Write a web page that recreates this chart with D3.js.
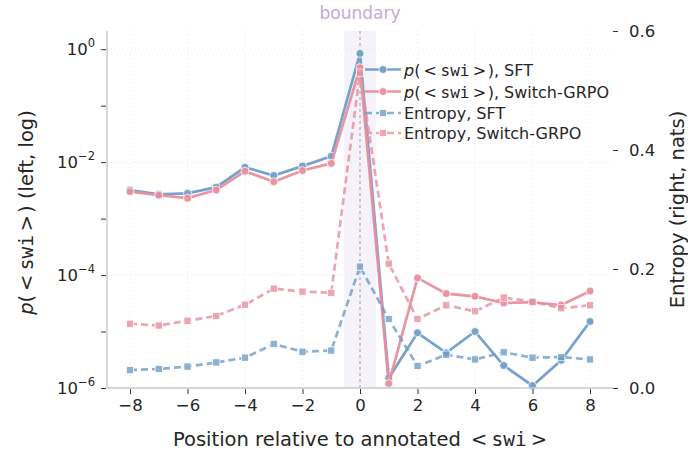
<!DOCTYPE html>
<html>
<head>
<meta charset="utf-8">
<script src="https://cdn.jsdelivr.net/npm/d3@7"></script>
<style>
  body { margin: 0; background: #fff; }
  text { font-family: "DejaVu Sans", sans-serif; fill: #262626; }
</style>
</head>
<body>
<svg id="chart"></svg>
<script>
var positions = [-8, -7, -6, -5, -4, -3, -2, -1, 0, 1, 2, 3, 4, 5, 6, 7, 8]

var pSft = [3.2e-3, 2.7e-3, 2.8e-3, 3.6e-3, 8.1e-3, 5.8e-3, 8.5e-3, 1.27e-2, 0.84,
            1.5e-6, 9.5e-6, 4.2e-6, 1.0e-5, 2.5e-6, 1.1e-6, 3.1e-6, 1.5e-5]
var pGrpo = [3.0e-3, 2.6e-3, 2.3e-3, 3.2e-3, 6.9e-3, 4.5e-3, 7.1e-3, 9.5e-3, 0.47,
             1.2e-6, 8.9e-5, 4.7e-5, 4.2e-5, 3.2e-5, 3.3e-5, 2.95e-5, 5.2e-5]
var entSft = [0.030, 0.032, 0.036, 0.043, 0.051, 0.074, 0.061, 0.063, 0.204,
              0.116, 0.037, 0.056, 0.048, 0.060, 0.051, 0.052, 0.048]
var entGrpo = [0.108, 0.105, 0.113, 0.121, 0.140, 0.167, 0.162, 0.160, 0.530,
               0.209, 0.116, 0.139, 0.129, 0.152, 0.145, 0.134, 0.139]

var xTicks = [-8, -6, -4, -2, 0, 2, 4, 6, 8]
var leftTicks = [1e-6, 1e-5, 1e-4, 1e-3, 1e-2, 1e-1, 1]
var leftLabels = [1e-6, 1e-4, 1e-2, 1]
var rightTicks = [0, 0.2, 0.4, 0.6]

var dimensions = {
  width: 688,
  height: 452,
  margin: { top: 31, bottom: 64, left: 107, right: 75 }
}

var blue = "#6f9ec9"
var pink = "#e8909e"

var svg = d3.select("#chart")
  .attr("width", dimensions.width)
  .attr("height", dimensions.height)

var x0 = dimensions.margin.left
var x1 = dimensions.width - dimensions.margin.right
var y0 = dimensions.height - dimensions.margin.bottom
var y1 = dimensions.margin.top

var xScale = d3.scaleLinear().domain([-8.8, 8.8]).range([x0, x1])
var yLeft = d3.scaleLog().domain([1e-6, 2.1]).range([y0, y1])
var yRight = d3.scaleLinear().domain([0, 0.6]).range([y0, y1])

// boundary band
svg.append("rect")
  .attr("x", xScale(-0.55))
  .attr("width", xScale(0.55) - xScale(-0.55))
  .attr("y", y1)
  .attr("height", y0 - y1)
  .attr("fill", "#f5f2fa")

// grid
svg.append("g").selectAll("line")
  .data(xTicks)
  .enter().append("line")
  .attr("x1", d => xScale(d)).attr("x2", d => xScale(d))
  .attr("y1", y1).attr("y2", y0)
  .attr("stroke", "#e2e2e2")
  .attr("stroke-width", 0.8)
  .attr("stroke-dasharray", "1,3")

svg.append("g").selectAll("line")
  .data([1e-4, 1e-2, 1])
  .enter().append("line")
  .attr("x1", x0).attr("x2", x1)
  .attr("y1", d => yLeft(d)).attr("y2", d => yLeft(d))
  .attr("stroke", "#e2e2e2")
  .attr("stroke-width", 0.8)
  .attr("stroke-dasharray", "1,3")

// boundary line
svg.append("line")
  .attr("x1", xScale(0)).attr("x2", xScale(0))
  .attr("y1", y1).attr("y2", y0)
  .attr("stroke", "#b3abbd")
  .attr("stroke-width", 1.2)
  .attr("stroke-dasharray", "3,3")

svg.append("text")
  .attr("x", xScale(0))
  .attr("y", 19)
  .attr("text-anchor", "middle")
  .style("font-size", "17px")
  .style("fill", "#c6a8de")
  .text("boundary")

// series
function drawSeries(values, scale, color, dashed, marker) {
  var pts = positions.map((p, i) => [xScale(p), scale(values[i])])
  var g = svg.append("g").attr("opacity", dashed ? 0.8 : 0.95)
  g.append("path")
    .attr("d", d3.line()(pts))
    .attr("fill", "none")
    .attr("stroke", color)
    .attr("stroke-width", 2.7)
    .attr("stroke-dasharray", dashed ? "7,4" : null)
  if (marker == "circle") {
    g.selectAll("circle").data(pts).enter().append("circle")
      .attr("cx", d => d[0]).attr("cy", d => d[1]).attr("r", 4)
      .attr("fill", color).attr("stroke", "#fff").attr("stroke-width", 0.8)
  } else {
    g.selectAll("rect").data(pts).enter().append("rect")
      .attr("x", d => d[0] - 3.6).attr("y", d => d[1] - 3.6)
      .attr("width", 7.2).attr("height", 7.2)
      .attr("fill", color).attr("stroke", "#fff").attr("stroke-width", 0.8)
  }
}

drawSeries(pSft, yLeft, blue, false, "circle")
drawSeries(pGrpo, yLeft, pink, false, "circle")
drawSeries(entSft, yRight, blue, true, "square")
drawSeries(entGrpo, yRight, pink, true, "square")

// spines
svg.append("line")
  .attr("x1", x0).attr("x2", x0).attr("y1", y1).attr("y2", y0)
  .attr("stroke", "#c9c9d2").attr("stroke-width", 1.5)
svg.append("line")
  .attr("x1", x0).attr("x2", x1).attr("y1", y0).attr("y2", y0)
  .attr("stroke", "#c9c9d2").attr("stroke-width", 1.5)

// x axis
var xAxis = svg.append("g")
  .attr("transform", `translate(0,${y0 + 1})`)
  .call(d3.axisBottom(xScale).tickValues(xTicks).tickSize(5).tickPadding(5)
    .tickFormat(d => d < 0 ? "\u2212" + Math.abs(d) : d))
xAxis.select(".domain").remove()
xAxis.selectAll(".tick line").attr("stroke", "#333")
xAxis.selectAll("text").style("font-size", "16.5px").style("fill", "#262626")

// left axis
var leftAxis = svg.append("g")
  .attr("transform", `translate(${x0 - 1},0)`)
  .call(d3.axisLeft(yLeft).tickValues(leftTicks).tickSize(5).tickFormat(""))
leftAxis.select(".domain").remove()
leftAxis.selectAll(".tick line").attr("stroke", "#333")

var expLabels = svg.append("g").selectAll("text")
  .data(leftLabels)
  .enter().append("text")
  .attr("x", x0 - 12)
  .attr("y", d => yLeft(d) + 6)
  .attr("text-anchor", "end")
  .style("font-size", "16.5px")
expLabels.append("tspan").text("10")
expLabels.append("tspan")
  .attr("dy", -8)
  .style("font-size", "11.5px")
  .text(d => {
    var e = Math.round(Math.log10(d))
    return e < 0 ? "\u2212" + Math.abs(e) : e
  })

// right axis
var rightAxis = svg.append("g")
  .attr("transform", `translate(${x1},0)`)
  .call(d3.axisRight(yRight).tickValues(rightTicks).tickSize(5).tickPadding(11)
    .tickFormat(d3.format(".1f")))
rightAxis.select(".domain").remove()
rightAxis.selectAll(".tick line").attr("stroke", "#333")
rightAxis.selectAll("text").style("font-size", "16.5px").style("fill", "#262626")

// text pieces for "<swi>"
function swiLabel(sel, prefix, suffix, italicP) {
  if (italicP) {
    sel.append("tspan").style("font-style", "italic").text("p")
    sel.append("tspan").text("(")
  } else {
    sel.append("tspan").text(prefix)
  }
  sel.append("tspan").attr("dx", "0.2em").text("<")
  sel.append("tspan").attr("dx", "0.22em")
    .style("font-family", "'DejaVu Sans Mono', monospace").text("swi")
  sel.append("tspan").attr("dx", "0.2em").text(">")
  if (suffix) sel.append("tspan").attr("dx", "0.1em").text(suffix)
}

var xl = svg.append("text")
  .attr("x", (x0 + x1) / 2)
  .attr("y", 446)
  .attr("text-anchor", "middle")
  .style("font-size", "19.5px")
swiLabel(xl, "Position relative to annotated ", "", false)

var yl = svg.append("text")
  .attr("transform", `translate(33,${(y0 + y1) / 2 + 3}) rotate(-90)`)
  .attr("text-anchor", "middle")
  .style("font-size", "19.5px")
swiLabel(yl, "", ") (left, log)", true)

svg.append("text")
  .attr("transform", `translate(684,${(y0 + y1) / 2}) rotate(-90)`)
  .attr("text-anchor", "middle")
  .style("font-size", "19.5px")
  .text("Entropy (right, nats)")

// legend
var legendItems = [
  { suffix: "), SFT", color: blue, dashed: false, marker: "circle" },
  { suffix: "), Switch-GRPO", color: pink, dashed: false, marker: "circle" },
  { label: "Entropy, SFT", color: blue, dashed: true, marker: "square" },
  { label: "Entropy, Switch-GRPO", color: pink, dashed: true, marker: "square" }
]
var legendRows = [69.5, 91.5, 113, 133]

var legend = svg.append("g")
legendItems.forEach(function (item, i) {
  var ly = legendRows[i]
  var g = legend.append("g").attr("opacity", item.dashed ? 0.8 : 0.95)
  g.append("line")
    .attr("x1", 365).attr("x2", 401).attr("y1", ly).attr("y2", ly)
    .attr("stroke", item.color).attr("stroke-width", 2.7)
    .attr("stroke-dasharray", item.dashed ? "7,4" : null)
  if (item.marker == "circle") {
    g.append("circle").attr("cx", 383).attr("cy", ly).attr("r", 4)
      .attr("fill", item.color).attr("stroke", "#fff").attr("stroke-width", 0.8)
  } else {
    g.append("rect").attr("x", 379.4).attr("y", ly - 3.6).attr("width", 7.2).attr("height", 7.2)
      .attr("fill", item.color).attr("stroke", "#fff").attr("stroke-width", 0.8)
  }
  var t = legend.append("text")
    .attr("x", 404)
    .attr("y", ly + 6)
    .style("font-size", "16px")
  if (item.label) t.text(item.label)
  else swiLabel(t, "", item.suffix, true)
})
</script>
</body>
</html>
